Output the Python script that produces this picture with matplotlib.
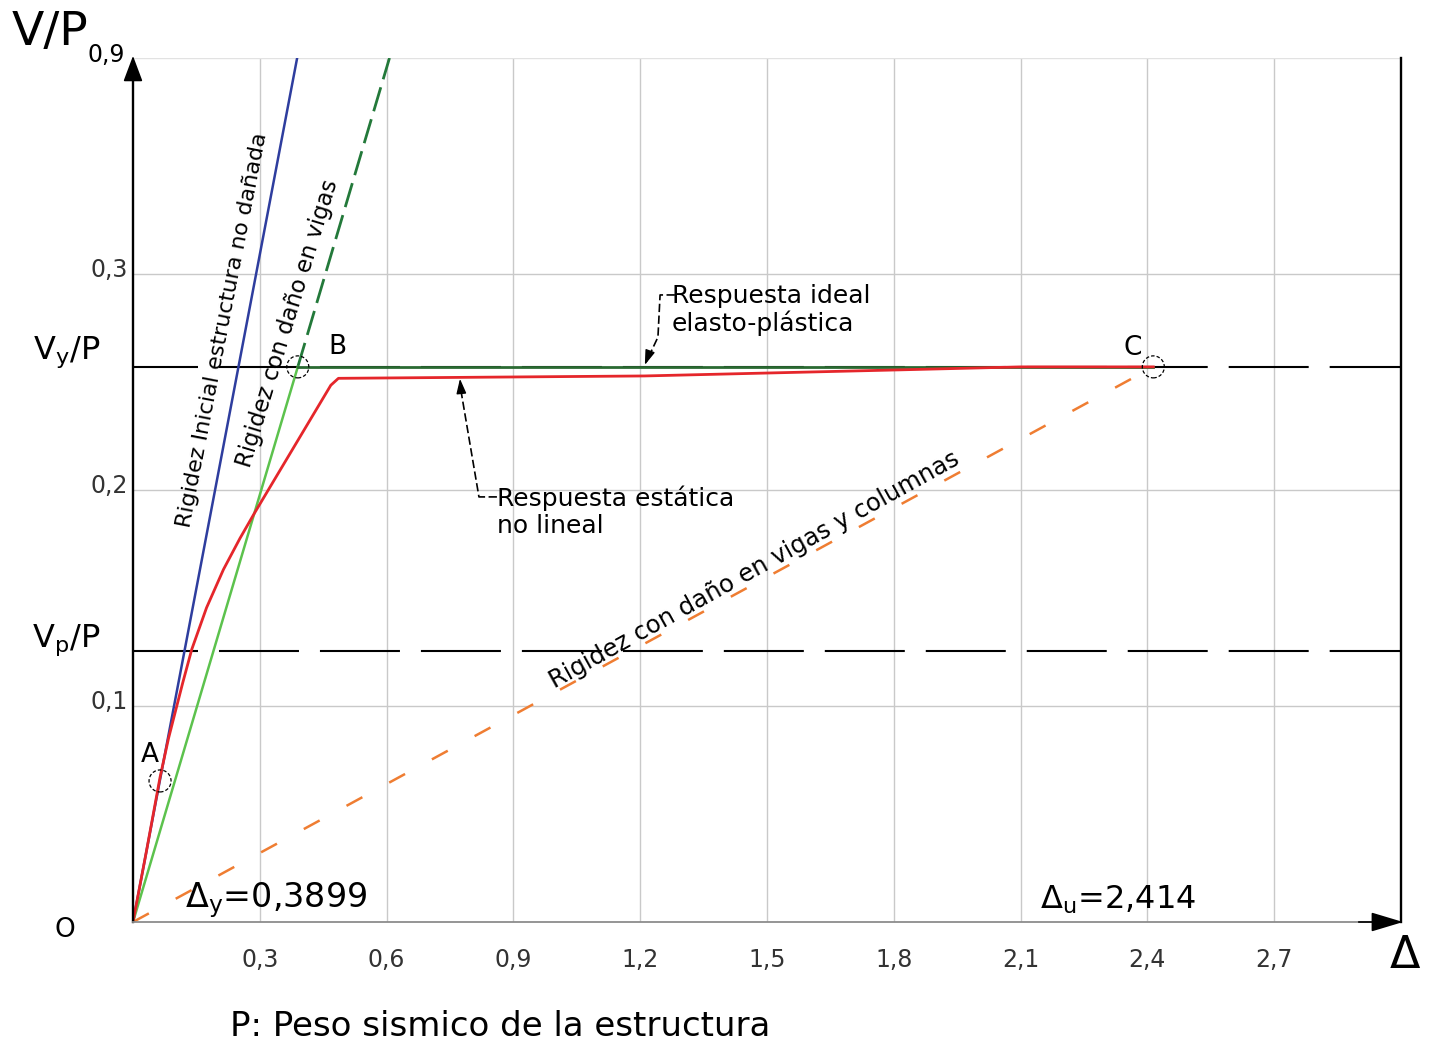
import numpy as np
import matplotlib
matplotlib.use('Agg')
import matplotlib.pyplot as plt
from matplotlib.patches import Ellipse
from matplotlib.transforms import ScaledTranslation

plt.rcParams['font.family'] = ['DejaVu Sans']
plt.rcParams['lines.scale_dashes'] = False

# curva de capacidad (pushover) y rigideces
red_x = [0, 0.032, 0.064, 0.084, 0.0994, 0.118, 0.139, 0.174, 0.214, 0.253,
         0.285, 0.324, 0.36, 0.468, 0.486, 1.21, 1.81, 2.1, 2.414]
red_y = [0, 0.033, 0.067, 0.085, 0.0968, 0.111, 0.1262, 0.1455, 0.1632, 0.1776,
         0.1885, 0.2013, 0.2131, 0.2485, 0.2517, 0.2528, 0.2556, 0.257, 0.257]

vy = 0.257          # Vy/P
vp = 0.1256         # Vp/P
dy = 0.3899         # desplazamiento de fluencia
du = 2.414          # desplazamiento ultimo
k_ini = 1.03        # rigidez inicial, estructura no danada
vmax = 0.4

pt_A = (0.064, 0.0653)
pt_B = (dy, vy)
pt_C = (du, vy)

x_ticks = [0.3, 0.6, 0.9, 1.2, 1.5, 1.8, 2.1, 2.4, 2.7]
x_labels = ['0,3', '0,6', '0,9', '1,2', '1,5', '1,8', '2,1', '2,4', '2,7']
y_ticks = [0.1, 0.2, 0.3]
y_labels = ['0,1', '0,2', '0,3']

fig = plt.figure(figsize=(14.37, 10.44), dpi=100)
ax = fig.add_axes([133 / 1437, 122 / 1044, 1268 / 1437, 864 / 1044])
ax.set_xlim(0, 3.0)
ax.set_ylim(0, vmax)
for s in ax.spines.values():
    s.set_visible(False)

ax.set_xticks(x_ticks)
ax.set_xticklabels(x_labels)
ax.set_yticks(y_ticks)
ax.set_yticklabels(y_labels)
ax.tick_params(length=0, labelsize=17, colors='#333333')
ax.tick_params(axis='x', pad=19)
ax.tick_params(axis='y', pad=4)
for lab in ax.get_yticklabels():
    lab.set_transform(lab.get_transform() + ScaledTranslation(0, 0.07, fig.dpi_scale_trans))
ax.grid(True, color='#c9c9c9', lw=1.0)
ax.axhline(vmax, color='#e2e2e2', lw=1.0)

# ejes y borde derecho
ax.plot([0, 0], [0, vmax - 0.008], color='black', lw=1.7, clip_on=False, zorder=6)
ax.plot([0, 2.97], [0, 0], color='#8c8c8c', lw=1.3, clip_on=False, zorder=6)
ax.plot([3.0, 3.0], [0, vmax], color='black', lw=1.7, clip_on=False, zorder=6)
ax.annotate('', xy=(0, vmax + 0.001), xytext=(0, vmax - 0.012),
            arrowprops=dict(arrowstyle='-|>,head_length=1.6,head_width=0.6',
                            color='black', lw=1.2, shrinkA=0, shrinkB=0),
            annotation_clip=False, zorder=7)
ax.annotate('', xy=(3.005, 0), xytext=(2.9, 0),
            arrowprops=dict(arrowstyle='-|>,head_length=2.0,head_width=0.6',
                            color='black', lw=1.2, shrinkA=0, shrinkB=0),
            annotation_clip=False, zorder=7)

# lineas Vy/P y Vp/P
dash_long = (10.8, (57.6, 15.1))
ax.plot([0, 3.0], [vy, vy], color='black', lw=1.5, linestyle=dash_long, zorder=2)
ax.plot([0, 3.0], [vp, vp], color='black', lw=1.5, linestyle=dash_long, zorder=2)

# rigideces
ax.plot([0, vmax / k_ini], [0, vmax], color='#2e3d9e', lw=1.8, zorder=3)
k_vig = vy / dy
ax.plot([dy, vmax / k_vig], [vy, vmax], color='#23793a', lw=2.0,
        linestyle=(0, (18, 6)), zorder=3)
ax.plot([0, du], [0, vy], color='#ef7d32', lw=1.8,
        linestyle=(0, (13, 22)), zorder=3)

# respuesta ideal elasto-plastica
ax.plot([0, dy], [0, vy], color='#5cc24d', lw=1.8, zorder=4)
ax.plot([dy, du], [vy, vy], color='#2a6a32', lw=2.0, zorder=4)

# respuesta estatica no lineal
ax.plot(red_x, red_y, color='#e5262b', lw=2.0, zorder=5)

# puntos A, B, C
for (px, py) in (pt_A, pt_B, pt_C):
    ax.add_patch(Ellipse((px, py), 22 / 422.7, 22 / 2160, fill=False,
                         ec='black', lw=0.9, ls=(0, (2.5, 1.5)), zorder=6))
ax.text(0.040, 0.0773, 'A', fontsize=19, ha='center', va='center')
ax.text(0.483, 0.266, 'B', fontsize=19, ha='center', va='center')
ax.text(2.366, 0.2657, 'C', fontsize=19, ha='center', va='center')

# etiquetas de rigidez
ax.text(0.212, 0.274, 'Rigidez Inicial estructura no dañada', fontsize=16,
        rotation=79, rotation_mode='anchor', ha='center', va='center')
ax.text(0.367, 0.277, 'Rigidez con daño en vigas', fontsize=16.5,
        rotation=73, rotation_mode='anchor', ha='center', va='center')
ax.text(1.471, 0.163, 'Rigidez con daño en vigas y columnas', fontsize=17.5,
        rotation=29, rotation_mode='anchor', ha='center', va='center')

# textos con lineas de referencia
leader = dict(color='black', lw=1.2, ls=(0, (6, 2.5)))
ax.text(1.275, 0.2833, 'Respuesta ideal\nelasto-plástica', fontsize=18,
        ha='left', va='center', linespacing=1.15)
ax.plot([1.282, 1.247, 1.242, 1.215], [0.2903, 0.2903, 0.2708, 0.2595], **leader)
ax.annotate('', xy=(1.211, 0.2579), xytext=(1.216, 0.2605),
            arrowprops=dict(arrowstyle='-|>,head_length=0.9,head_width=0.3',
                            color='black', lw=1.0, shrinkA=0, shrinkB=0))

ax.text(0.861, 0.1898, 'Respuesta estática\nno lineal', fontsize=18,
        ha='left', va='center', linespacing=1.15)
ax.plot([0.861, 0.8185, 0.7755], [0.1968, 0.1968, 0.2465], **leader)
ax.annotate('', xy=(0.7736, 0.2515), xytext=(0.7755, 0.2475),
            arrowprops=dict(arrowstyle='-|>,head_length=0.9,head_width=0.3',
                            color='black', lw=1.0, shrinkA=0, shrinkB=0))

# desplazamientos
ax.text(0.123, 0.0102, r'$\mathregular{\Delta_y}$=0,3899', fontsize=24,
        ha='left', va='center')
ax.text(2.146, 0.0102, r'$\mathregular{\Delta_u}$=2,414', fontsize=23,
        ha='left', va='center')

# rotulos fuera del area
ax.text(-0.078, 0.2639, r'V$\mathregular{_y}$/P', fontsize=23, ha='right',
        va='center', clip_on=False)
ax.text(-0.078, 0.1306, r'V$\mathregular{_p}$/P', fontsize=23, ha='right',
        va='center', clip_on=False)
ax.text(-0.286, 0.412, 'V/P', fontsize=34, ha='left', va='center', clip_on=False)
ax.text(-0.108, 0.4015, '0,9', fontsize=17, ha='left', va='center', clip_on=False)
ax.text(-0.161, -0.0037, 'O', fontsize=19, ha='center', va='center', clip_on=False)
ax.text(3.009, -0.0153, 'Δ', fontsize=32, ha='center', va='center', clip_on=False)
ax.text(0.229, -0.0486, 'P: Peso sismico de la estructura', fontsize=24.5,
        ha='left', va='center', clip_on=False)

fig.savefig('out.png', dpi=100, facecolor='white')
